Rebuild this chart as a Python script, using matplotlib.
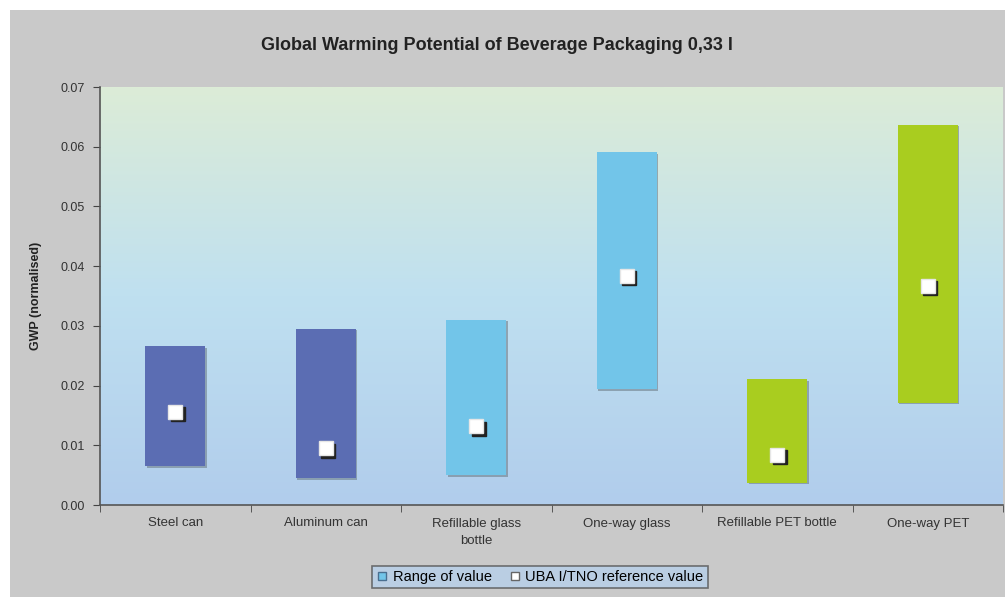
import numpy as np
import matplotlib.pyplot as plt
import matplotlib.transforms as mtransforms
from matplotlib.colors import LinearSegmentedColormap
from matplotlib.patches import Rectangle
from matplotlib.lines import Line2D

plt.rcParams['font.family'] = ['Liberation Sans', 'DejaVu Sans']

# data
categories = ['Steel can', 'Aluminum can', 'Refillable glass\nbottle',
              'One-way glass', 'Refillable PET bottle', 'One-way PET']
range_low = [0.0065, 0.0045, 0.0050, 0.0194, 0.0037, 0.0171]
range_high = [0.0266, 0.0295, 0.0310, 0.0591, 0.0211, 0.0637]
reference = [0.0156, 0.0095, 0.0132, 0.0384, 0.0084, 0.0367]
bar_colors = ['#5b6db3', '#5b6db3', '#72c5e9', '#72c5e9', '#a9cd1f', '#a9cd1f']
yticks = [0.00, 0.01, 0.02, 0.03, 0.04, 0.05, 0.06, 0.07]

fig = plt.figure(figsize=(10.05, 5.97), dpi=100)
fig.patch.set_facecolor('white')
# grey chart area (white strip at top and left)
bg = Rectangle((10 / 1005, 0), 1 - 10 / 1005, 1 - 10 / 597,
               transform=fig.transFigure, facecolor='#c9c9c9',
               edgecolor='none', zorder=-5)
fig.add_artist(bg)

ax = fig.add_axes([100 / 1005, 1 - 505 / 597, 903 / 1005, 418 / 597])
ax.set_facecolor('none')

# gradient plot area background
cmap = LinearSegmentedColormap.from_list('bg', ['#b1cdec', '#bfe0f0', '#dcecd7'])
grad = np.linspace(0, 1, 256).reshape(-1, 1)
ax.imshow(grad, cmap=cmap, aspect='auto', origin='lower',
          extent=[-0.5, len(categories) - 0.5, 0, 0.07], zorder=0)

x = np.arange(len(categories))
heights = np.array(range_high) - np.array(range_low)

# bar shadow
shadow = mtransforms.offset_copy(ax.transData, fig, x=1.5, y=-1.5, units='dots')
ax.bar(x, heights, bottom=range_low, width=0.4, color='#6f7f8a', alpha=0.6,
       transform=shadow, zorder=1)
ax.bar(x, heights, bottom=range_low, width=0.4, color=bar_colors,
       edgecolor='none', zorder=2)

# reference markers with shadow
mshadow = mtransforms.offset_copy(ax.transData, fig, x=2.5, y=-2.5, units='dots')
ax.plot(x, reference, 's', ms=10, color='#222222', transform=mshadow,
        linestyle='none', zorder=3)
ax.plot(x, reference, 's', ms=10, markerfacecolor='white',
        markeredgecolor='#e6e6e6', linestyle='none', zorder=4)

ax.set_xlim(-0.5, len(categories) - 0.5)
ax.set_ylim(0, 0.07)
ax.set_yticks(yticks)
ax.set_yticklabels([f'{v:.2f}' for v in yticks], fontsize=9, color='#333333')
ax.set_xticks(x)
ax.set_xticklabels(categories, fontsize=9.5, color='#333333', linespacing=1.6)
ax.set_xticks(np.arange(len(categories) + 1) - 0.5, minor=True)
ax.tick_params(axis='x', which='major', length=0, pad=9)
ax.tick_params(axis='x', which='minor', length=5, color='#444444', direction='out')
ax.tick_params(axis='y', length=5, color='#444444', direction='out', pad=6)

for side in ['top', 'right']:
    ax.spines[side].set_visible(False)
for side in ['left', 'bottom']:
    ax.spines[side].set_color('#555555')
    ax.spines[side].set_linewidth(1.2)

ax.set_ylabel('GWP (normalised)', fontsize=9, fontweight='bold', color='#222222')
ax.yaxis.set_label_coords(-58 / 903, 0.5)

fig.text(497 / 1005, 1 - 45 / 597, 'Global Warming Potential of Beverage Packaging 0,33 l',
         ha='center', va='center', fontsize=13, fontweight='bold', color='#222222')

handles = [
    Line2D([], [], marker='s', linestyle='none', ms=6, markerfacecolor='#72c5e9',
           markeredgecolor='#4a6f90', label='Range of value'),
    Line2D([], [], marker='s', linestyle='none', ms=6, markerfacecolor='white',
           markeredgecolor='#666666', label='UBA I/TNO reference value'),
]
leg = fig.legend(handles=handles, loc='center', bbox_to_anchor=(540 / 1005, 1 - 577 / 597),
                 ncol=2, fontsize=10.5, frameon=True, fancybox=False, handlelength=0.8,
                 handletextpad=0.3, columnspacing=1.2, borderpad=0.3)
leg.get_frame().set_facecolor('#b7d0ea')
leg.get_frame().set_edgecolor('#555555')
leg.get_frame().set_linewidth(1.2)

plt.savefig('out.png', dpi=100)
